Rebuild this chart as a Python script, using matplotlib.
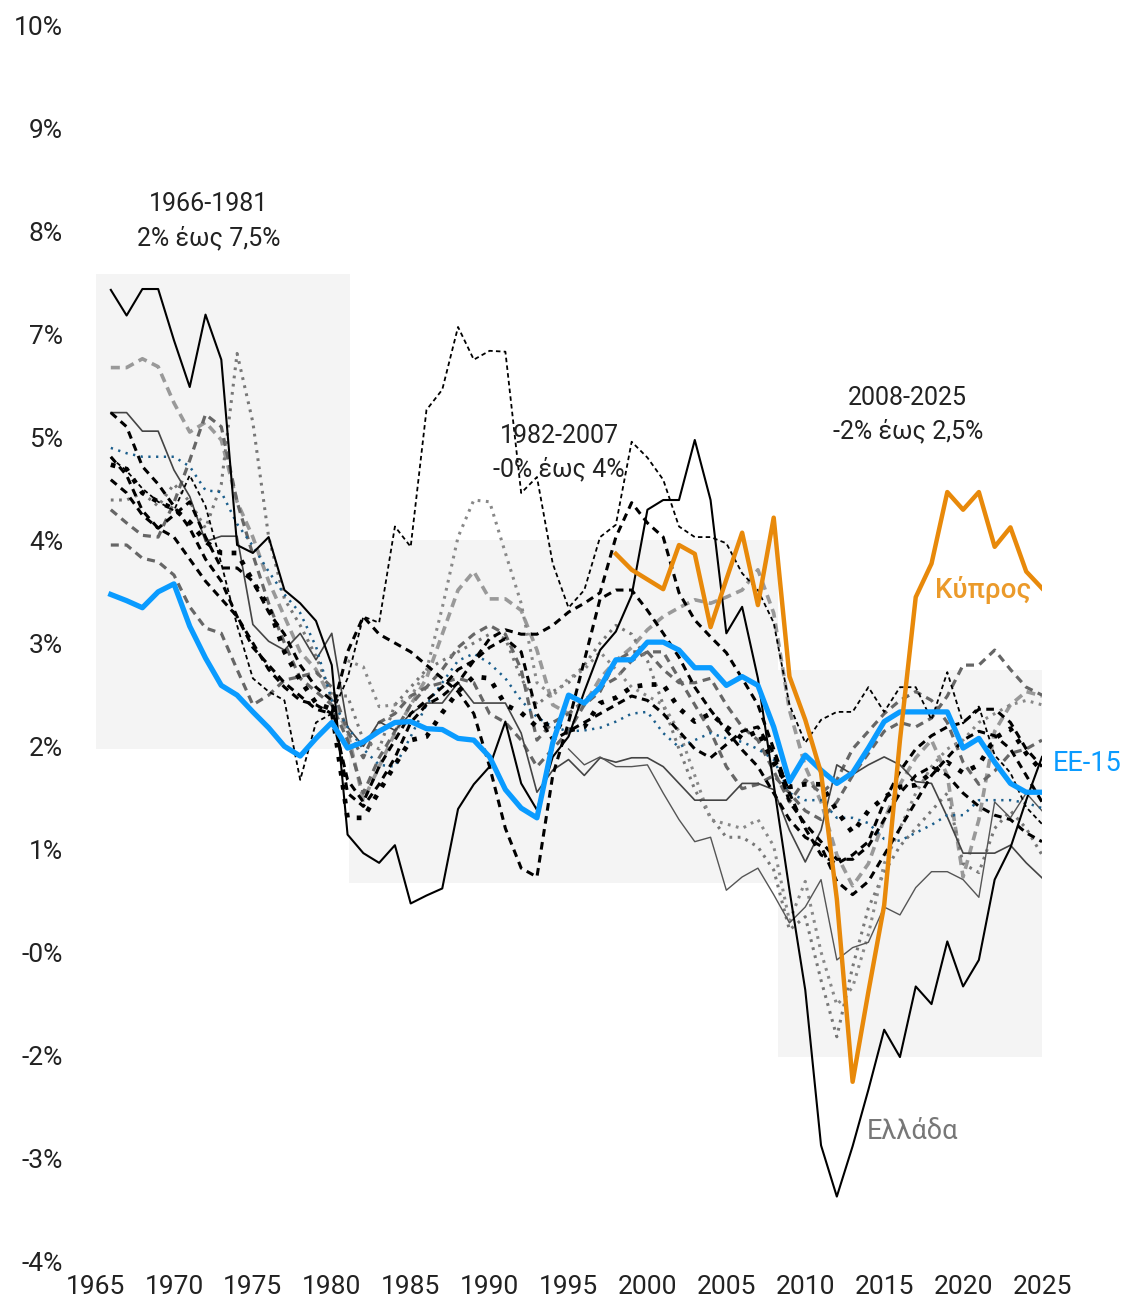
import numpy as np
import matplotlib
matplotlib.use("Agg")
import matplotlib.pyplot as plt
from matplotlib.patches import Rectangle

plt.rcParams['font.family'] = ['Roboto', 'DejaVu Sans']

years = list(range(1966, 2026))

# EU-15 average
ee15 = [3.55, 3.48, 3.4, 3.58, 3.67, 3.19, 2.83, 2.52, 2.41, 2.22,
        2.04, 1.83, 1.72, 1.92, 2.1, 1.81, 1.88, 2.0, 2.1, 2.11,
        2.03, 2.02, 1.92, 1.9, 1.71, 1.34, 1.13, 1.02, 1.87, 2.41,
        2.32, 2.5, 2.81, 2.81, 3.01, 3.01, 2.92, 2.72, 2.72, 2.52,
        2.62, 2.52, 2.05, 1.43, 1.73, 1.56, 1.41, 1.53, 1.81, 2.11,
        2.22, 2.22, 2.22, 2.22, 1.81, 1.92, 1.65, 1.41, 1.31, 1.31]

greece = [7.0, 6.71, 7.01, 7.01, 6.43, 5.9, 6.72, 6.21, 4.11, 4.02,
          4.2, 3.6, 3.45, 3.25, 2.75, 0.83, 0.62, 0.51, 0.71, 0.05,
          0.14, 0.22, 1.12, 1.4, 1.6, 2.11, 1.41, 1.11, 1.71, 1.94,
          2.45, 2.92, 3.13, 3.54, 4.51, 4.62, 4.62, 5.3, 4.62, 3.11,
          3.41, 2.6, 1.4, 0.2, -0.93, -2.69, -3.27, -2.7, -2.06, -1.38,
          -1.69, -0.89, -1.09, -0.38, -0.89, -0.59, 0.32, 0.68, 1.22, 1.71]

cyprus_years = list(range(1998, 2026))
cyprus = [4.01, 3.83, 3.72, 3.61, 4.11, 4.01, 3.18, 3.72, 4.25, 3.43,
          4.42, 2.62, 2.13, 1.53, 0.1, -1.97, -0.95, 0.03, 1.9, 3.52,
          3.9, 4.71, 4.51, 4.71, 4.09, 4.31, 3.81, 3.62]

# other EU-15 countries
fine_dash = [5.1, 4.95, 4.75, 4.6, 4.5, 4.9, 4.55, 3.9, 3.2, 2.6,
             2.45, 2.35, 1.45, 2.1, 2.2, 2.6, 3.3, 3.23, 4.32, 4.09,
             5.64, 5.87, 6.58, 6.21, 6.31, 6.3, 4.7, 4.88, 3.9, 3.4,
             3.6, 4.2, 4.34, 5.28, 5.1, 4.85, 4.32, 4.2, 4.2, 4.13,
             3.79, 3.6, 3.23, 2.3, 1.87, 2.13, 2.22, 2.22, 2.5, 2.22,
             2.5, 2.5, 2.13, 2.67, 2.09, 2.28, 1.73, 1.53, 1.14, 0.95]

heavy_dash_1 = [4.85, 4.7, 4.45, 4.3, 4.45, 4.6, 4.2, 3.85, 3.85, 3.7,
                3.35, 3.1, 2.75, 2.5, 2.35, 1.3, 1.15, 1.4, 1.7, 2.1,
                2.3, 2.4, 2.55, 2.8, 3.05, 3.15, 3.1, 3.1, 3.2, 3.35,
                3.45, 3.57, 4.2, 4.59, 4.36, 4.2, 3.57, 3.26, 3.07, 2.89,
                2.6, 2.3, 1.8, 1.3, 0.9, 0.6, 0.5, 0.6, 0.75, 1.2,
                1.55, 1.8, 1.95, 2.05, 2.1, 2.25, 2.25, 2.1, 1.8, 1.6]

heavy_dash_2 = [5.61, 5.45, 5.0, 4.8, 4.55, 4.3, 3.95, 3.7, 3.3, 2.95,
                2.75, 2.55, 2.4, 2.25, 2.2, 2.9, 3.3, 3.1, 3.0, 2.9,
                2.75, 2.6, 2.45, 2.2, 1.6, 0.9, 0.45, 0.35, 1.5, 2.1,
                2.8, 3.5, 3.6, 3.6, 3.37, 3.11, 2.84, 2.5, 2.24, 2.01,
                1.79, 1.6, 1.3, 1.0, 0.8, 0.7, 0.3, 0.15, 0.3, 0.6,
                0.9, 1.2, 1.5, 1.7, 1.9, 2.0, 1.95, 1.8, 1.5, 1.2]

heavy_dash_3 = [5.11, 4.9, 4.5, 4.3, 4.2, 3.95, 3.7, 3.5, 3.3, 3.0,
                2.7, 2.5, 2.35, 2.3, 2.2, 1.45, 1.2, 1.6, 1.9, 2.2,
                2.35, 2.5, 2.7, 2.8, 2.95, 3.05, 2.9, 2.2, 1.9, 2.0,
                2.1, 2.2, 2.3, 2.4, 2.35, 2.2, 2.0, 1.8, 1.7, 1.85,
                2.0, 2.05, 1.75, 1.2, 0.95, 0.75, 0.55, 0.55, 0.7, 1.0,
                1.3, 1.5, 1.6, 1.5, 1.3, 1.15, 1.05, 1.0, 0.85, 0.75]

thick_dot = [5.02, 4.97, 4.7, 4.6, 4.52, 4.37, 4.15, 4.02, 4.02, 3.7,
             3.41, 2.9, 2.58, 2.32, 2.25, 1.02, 1.02, 1.32, 1.62, 1.9,
             1.94, 2.21, 2.45, 2.62, 2.6, 2.3, 2.21, 2.05, 2.1, 2.01,
             2.05, 2.32, 2.38, 2.5, 2.53, 2.53, 2.26, 2.11, 2.2, 2.05,
             1.92, 2.0, 1.64, 1.37, 1.4, 1.4, 1.1, 0.85, 1.1, 1.25,
             1.37, 1.39, 1.53, 1.65, 1.53, 1.62, 1.92, 2.03, 1.75, 1.55]

blue_dot = [5.21, 5.15, 5.11, 5.11, 5.11, 5.0, 4.73, 4.71, 4.35, 4.1,
            3.81, 3.55, 3.34, 2.96, 2.35, 2.05, 1.8, 1.62, 1.6, 1.94,
            2.3, 2.55, 2.8, 2.88, 2.77, 2.6, 2.35, 2.16, 2.05, 2.0,
            2.01, 2.04, 2.11, 2.2, 2.22, 1.98, 1.82, 1.9, 1.98, 1.92,
            1.88, 1.8, 1.68, 1.3, 1.22, 1.22, 1.02, 1.02, 0.96, 0.78,
            0.76, 0.85, 0.94, 1.05, 1.05, 1.22, 1.22, 1.22, 1.19, 1.13]

thin_gray_1 = [5.61, 5.61, 5.4, 5.4, 4.96, 4.66, 4.15, 4.21, 4.21, 3.21,
               3.02, 2.92, 3.11, 2.81, 3.11, 2.05, 1.83, 2.11, 2.01, 2.2,
               2.32, 2.32, 2.55, 2.32, 2.32, 2.32, 1.98, 1.31, 1.56, 1.68,
               1.5, 1.7, 1.65, 1.7, 1.7, 1.6, 1.41, 1.22, 1.22, 1.22,
               1.41, 1.41, 1.34, 0.88, 0.52, 0.88, 1.62, 1.51, 1.62, 1.71,
               1.62, 1.43, 1.41, 1.03, 0.62, 0.62, 0.62, 0.71, 0.51, 0.34]

thin_gray_2_years = list(range(1995, 2026))
thin_gray_2 = [1.8, 1.62, 1.71, 1.6, 1.6, 1.62, 1.3, 1.0, 0.75, 0.8,
               0.2, 0.35, 0.45, 0.15, -0.17, 0.01, 0.32, -0.59, -0.45, -0.39,
               0.01, -0.08, 0.23, 0.41, 0.41, 0.32, 0.12, 1.2, 1.02, 1.3, 1.1]

light_dash = [6.12, 6.12, 6.22, 6.13, 5.72, 5.39, 5.5, 5.3, 4.6, 4.2,
              3.7, 3.3, 2.9, 2.7, 2.35, 2.0, 1.22, 1.6, 1.98, 2.3,
              2.6, 3.1, 3.6, 3.81, 3.5, 3.5, 3.37, 2.92, 2.3, 2.2,
              2.3, 2.6, 2.8, 2.95, 3.15, 3.3, 3.4, 3.49, 3.45, 3.52,
              3.6, 3.83, 3.34, 2.24, 1.6, 1.2, 0.6, 0.25, 0.5, 1.0,
              1.4, 1.7, 1.9, 1.5, 0.35, 1.0, 2.0, 2.3, 2.45, 2.4]

dark_dash_1 = [4.51, 4.36, 4.22, 4.2, 4.59, 5.07, 5.59, 5.45, 4.6, 4.0,
               3.45, 3.0, 2.6, 2.45, 2.3, 1.9, 1.3, 1.7, 2.0, 2.3,
               2.5, 2.7, 2.95, 3.1, 3.2, 3.1, 2.7, 1.9, 2.1, 2.2,
               2.35, 2.5, 2.6, 2.8, 2.9, 2.9, 2.6, 2.3, 2.0, 1.6,
               1.35, 1.4, 1.5, 1.3, 1.1, 1.0, 1.2, 1.5, 1.75, 2.0,
               2.1, 2.05, 2.15, 2.4, 2.75, 2.75, 2.92, 2.7, 2.5, 2.41]

dark_dash_2 = [4.11, 4.11, 3.96, 3.92, 3.77, 3.41, 3.17, 3.11, 2.7, 2.3,
               2.41, 2.58, 2.62, 2.67, 2.5, 2.0, 1.7, 2.1, 2.2, 2.4,
               2.5, 2.55, 2.6, 2.55, 2.2, 2.1, 1.9, 1.6, 1.8, 2.0,
               2.3, 2.45, 2.8, 2.9, 2.9, 2.7, 2.55, 2.55, 2.6, 2.3,
               2.05, 1.9, 1.55, 1.2, 1.45, 1.3, 1.45, 1.8, 2.0, 2.2,
               2.35, 2.45, 2.35, 2.1, 1.65, 1.4, 1.55, 1.75, 1.8, 1.9]

gray_dot_1 = [4.62, 4.62, 4.7, 4.55, 4.8, 4.6, 4.3, 4.8, 6.28, 5.5,
              4.2, 3.5, 3.2, 2.85, 2.4, 2.4, 1.9, 1.8, 2.3, 2.5,
              2.7, 2.8, 2.9, 3.0, 3.1, 3.05, 2.6, 2.3, 2.45, 2.55,
              2.75, 3.0, 3.2, 3.1, 2.8, 2.3, 1.8, 1.34, 1.03, 0.8,
              0.8, 0.69, 0.43, -0.25, -0.1, -0.82, -1.46, -0.67, 0.0, 0.4,
              0.7, 0.9, 1.1, 1.3, 0.5, 0.4, 0.9, 1.1, 0.9, 0.6]

gray_dot_2_years = list(range(1981, 2026))
gray_dot_2 = [2.8, 2.73, 2.28, 2.3, 2.39, 2.69, 3.4, 4.2, 4.62, 4.6,
              4.02, 3.45, 2.55, 2.4, 2.6, 2.7, 2.9, 2.7, 2.5, 2.4,
              2.3, 2.0, 1.5, 1.0, 0.95, 0.9, 1.0, 0.7, -0.15, 0.3,
              -0.5, -1.1, -0.9, -0.3, 0.5, 0.9, 1.3, 1.6, 1.8, 1.9,
              2.1, 2.2, 2.3, 2.35, 2.3]

# shaded periods: (start, end, low, high)
periods = [(1965.05, 1981.15, 1.80, 7.18),
           (1981.1, 2008.3, 0.28, 4.17),
           (2008.3, 2025.15, -1.69, 2.69)]
period_labels = ["1966-1981\n2% έως 7,5%", "1982-2007\n-0% έως 4%", "2008-2025\n-2% έως 2,5%"]
period_label_pos = [(1972.2, 7.78), (1994.4, 5.16), (2016.5, 5.59)]

ytick_pos = np.linspace(-4, 10, 13)
ytick_labels = ['-4%', '-3%', '-2%', '-0%', '1%', '2%', '3%', '4%', '5%', '7%', '8%', '9%', '10%']
xtick_pos = list(range(1965, 2030, 5))

fig = plt.figure(figsize=(11.26, 12.98), dpi=100)
ax = fig.add_axes([0.0844, 0.0285, 0.8410, 0.9522])

for x0, x1, lo, hi in periods:
    ax.add_patch(Rectangle((x0, lo), x1 - x0, hi - lo, facecolor='#f4f4f4', edgecolor='none', zorder=0))

ax.plot(years, light_dash, color='#999999', lw=2.6, dashes=(2.5, 1.6), zorder=2)
ax.plot(years, dark_dash_1, color='#666666', lw=2.3, dashes=(2.5, 1.8), zorder=2)
ax.plot(years, dark_dash_2, color='#666666', lw=2.3, dashes=(2.5, 1.8), zorder=2)
ax.plot(years, gray_dot_1, color='#777777', lw=2.2, dashes=(0.9, 1.8), zorder=2)
ax.plot(gray_dot_2_years, gray_dot_2, color='#888888', lw=2.2, dashes=(0.9, 1.8), zorder=2)
ax.plot(years, thin_gray_1, color='#444444', lw=1.2, zorder=3)
ax.plot(thin_gray_2_years, thin_gray_2, color='#555555', lw=1.0, zorder=3)
ax.plot(years, blue_dot, color='#1b5e8c', lw=1.8, dashes=(0.9, 2.2), zorder=3)
ax.plot(years, fine_dash, color='black', lw=1.3, dashes=(2.5, 1.8), zorder=3)
ax.plot(years, heavy_dash_1, color='black', lw=2.2, dashes=(2.5, 1.8), zorder=3)
ax.plot(years, heavy_dash_2, color='black', lw=2.2, dashes=(2.5, 1.8), zorder=3)
ax.plot(years, heavy_dash_3, color='black', lw=2.2, dashes=(2.5, 1.8), zorder=3)
ax.plot(years, thick_dot, color='black', lw=3.4, dashes=(1.0, 2.0), zorder=3)
ax.plot(years, greece, color='black', lw=1.5, zorder=4)
ax.plot(years, ee15, color='#0a9bff', lw=3.8, zorder=5)
ax.plot(cyprus_years, cyprus, color='#e8890a', lw=3.2, zorder=6)

for (x, y), txt in zip(period_label_pos, period_labels):
    ax.text(x, y, txt, ha='center', va='center', fontsize=18, color='#222222',
            linespacing=1.45)

ax.text(2018.2, 3.6, "Κύπρος", color='#eb9a2a', fontsize=20, fontweight='medium', va='center')
ax.text(2025.7, 1.64, "ΕΕ-15", color='#0a9bff', fontsize=19.5, va='center')
ax.text(2016.8, -2.53, "Ελλάδα", color='#777777', fontsize=19.5, ha='center', va='center')

ax.set_xlim(1965, 2025)
ax.set_ylim(-4, 10)
ax.set_yticks(ytick_pos)
ax.set_yticklabels(ytick_labels)
ax.set_xticks(xtick_pos)
ax.tick_params(length=0, labelsize=19, colors='#222222')
ax.tick_params(axis='y', pad=23)
ax.tick_params(axis='x', pad=10)
for s in ax.spines.values():
    s.set_visible(False)

fig.savefig("out.png", dpi=100)
